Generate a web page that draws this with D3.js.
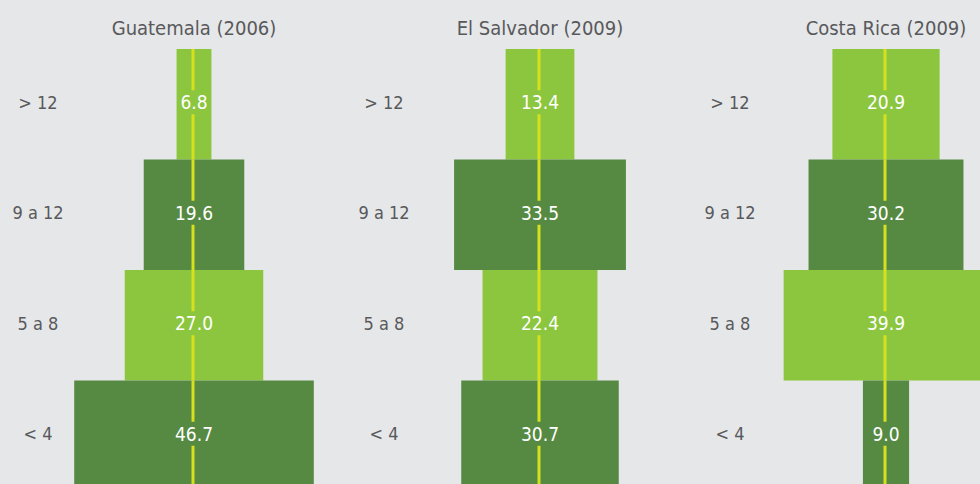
<!DOCTYPE html>
<html>
<head>
<meta charset="utf-8">
<script src="https://cdn.jsdelivr.net/npm/d3@7.9.0/dist/d3.min.js"></script>
<style>
  html, body { margin: 0; padding: 0; background: #e6e7e9; }
  svg { display: block; }
  text { font-family: 'Liberation Sans Narrow', 'DejaVu Sans Condensed', 'Roboto', sans-serif; }
</style>
</head>
<body>
<div id="chart"></div>
<script>
const categories = ['> 12', '9 a 12', '5 a 8', '< 4'];
const countries = ['Guatemala (2006)', 'El Salvador (2009)', 'Costa Rica (2009)'];
const guatemala = [6.8, 19.6, 27.0, 46.7];
const elSalvador = [13.4, 33.5, 22.4, 30.7];
const costaRica = [20.9, 30.2, 39.9, 9.0];
const seriesValues = [guatemala, elSalvador, costaRica];

const width = 980;
const height = 484;
const lightGreen = '#8cc63f';
const darkGreen = '#568a42';
const lineColor = '#d7e01c';

const svg = d3.select('#chart')
  .append('svg')
  .attr('width', width)
  .attr('height', height);

// panel centres
const xPanel = d3.scalePoint()
  .domain(countries)
  .range([194, 886]);

// rows
const yScale = d3.scaleBand()
  .domain(categories)
  .range([49, 49 + 4 * 110.5])
  .padding(0);

// bar width per unit
const wScale = d3.scaleLinear()
  .domain([0, 10])
  .range([0, 51.3]);

const gap = 12;

countries.forEach((country, ci) => {
  const cx = xPanel(country);
  const rows = categories.map((c, i) => ({ cat: c, value: seriesValues[ci][i], i }));
  const labelY = (d) => yScale(d.cat) + yScale.bandwidth() / 2 - 2;
  const g = svg.append('g');

  g.append('text')
    .attr('x', cx)
    .attr('y', 35)
    .attr('text-anchor', 'middle')
    .attr('fill', '#58595b')
    .style('font-size', '20px')
    .text(country);

  g.selectAll('rect')
    .data(rows)
    .join('rect')
    .attr('x', (d) => cx - wScale(d.value) / 2)
    .attr('y', (d) => yScale(d.cat))
    .attr('width', (d) => wScale(d.value))
    .attr('height', yScale.bandwidth())
    .attr('fill', (d) => (d.i % 2 === 0 ? lightGreen : darkGreen));

  // centre line, broken around the value labels
  const segs = rows.flatMap((d) => {
    const top = yScale(d.cat);
    const mid = labelY(d);
    return [[top, mid - gap], [mid + gap, top + yScale.bandwidth()]];
  });
  g.selectAll('line.center')
    .data(segs)
    .join('line')
    .attr('class', 'center')
    .attr('x1', cx - 1)
    .attr('x2', cx - 1)
    .attr('y1', (d) => d[0])
    .attr('y2', (d) => d[1])
    .attr('stroke', lineColor)
    .attr('stroke-width', 3);

  g.selectAll('text.value')
    .data(rows)
    .join('text')
    .attr('class', 'value')
    .attr('x', cx)
    .attr('y', labelY)
    .attr('dy', '0.36em')
    .attr('text-anchor', 'middle')
    .attr('fill', '#ffffff')
    .style('font-size', '19px')
    .text((d) => d3.format('.1f')(d.value));

  g.selectAll('text.cat')
    .data(rows)
    .join('text')
    .attr('class', 'cat')
    .attr('x', cx - 156)
    .attr('y', labelY)
    .attr('dy', '0.36em')
    .attr('text-anchor', 'middle')
    .attr('fill', '#58595b')
    .style('font-size', '18px')
    .text((d) => d.cat);
});
</script>
</body>
</html>
